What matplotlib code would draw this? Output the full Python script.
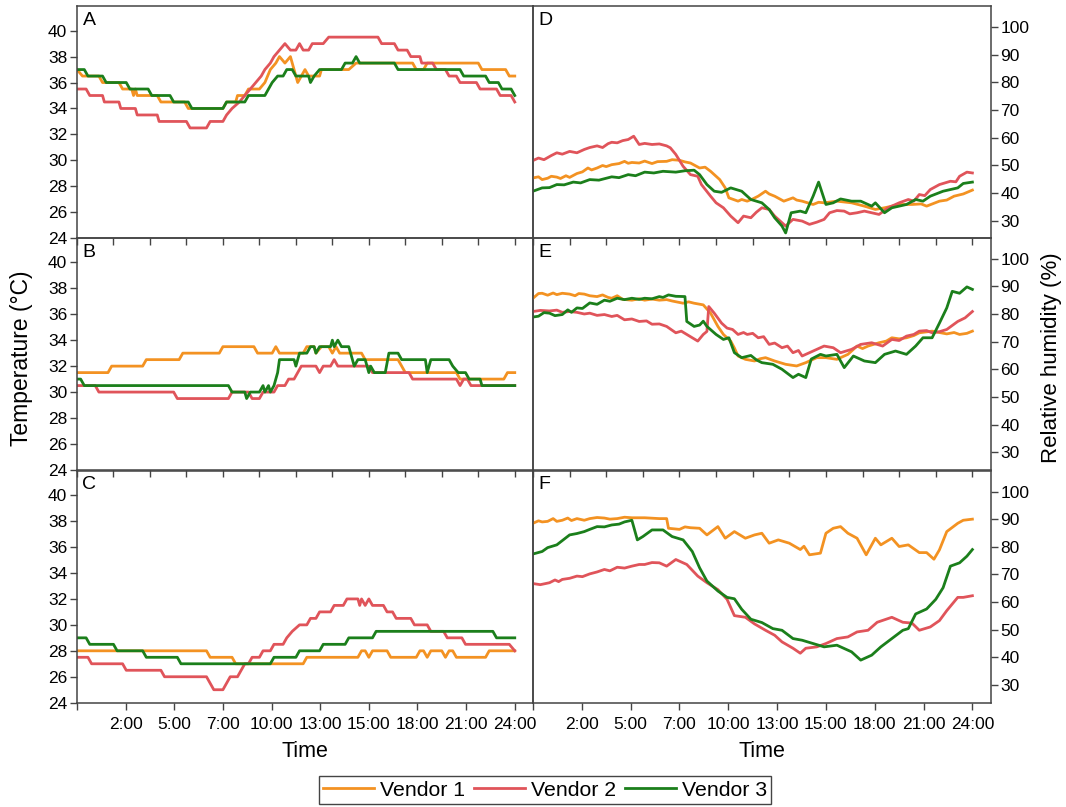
import matplotlib
matplotlib.use("Agg")
import matplotlib.pyplot as plt

plt.rcParams['font.family'] = ['Liberation Sans', 'DejaVu Sans']

# series names and colours
vendors = ["Vendor 1", "Vendor 2", "Vendor 3"]
colors = ["#F39222", "#E0545A", "#1B7F1B"]

# x tick labels of the bottom panels (9 equal steps over the day)
time_labels = ["", "2:00", "5:00", "7:00", "10:00", "13:00", "15:00", "18:00", "21:00", "24:00"]

# temperature (deg C), (hour, value)
A_V1 = [(0, 37), (0.3, 36.5), (1.2, 36.5), (1.4, 36), (2.3, 36), (2.5, 35.5), (3, 35.5), (3.1, 35), (3.2, 35.5),
        (3.3, 35), (4.4, 35), (4.6, 34.5), (5.9, 34.5), (6.1, 34), (8, 34), (8.2, 34.5), (8.7, 34.5), (8.8, 35),
        (9.2, 35), (9.4, 35.5), (10, 35.5), (10.3, 36), (10.6, 37), (10.9, 37.5), (11.1, 38), (11.4, 37.5),
        (11.7, 38), (11.9, 37), (12.1, 36), (12.3, 36.5), (12.5, 37), (12.7, 36.5), (13.3, 36.5), (13.4, 37),
        (14.6, 37), (14.9, 37), (15.3, 37.5), (18.4, 37.5), (18.6, 37), (19, 37), (19.2, 37.5), (22, 37.5),
        (22.2, 37), (23.5, 37), (23.7, 36.5), (24, 36.5)]
A_V2 = [(0, 35.5), (0.5, 35.5), (0.7, 35), (1.4, 35), (1.5, 34.5), (2.3, 34.5), (2.4, 34), (3.2, 34), (3.3, 33.5),
        (4.4, 33.5), (4.5, 33), (6, 33), (6.2, 32.5), (7.1, 32.5), (7.3, 33), (8, 33), (8.2, 33.5), (8.5, 34),
        (8.9, 34.5), (9.2, 35), (9.5, 35.5), (9.8, 36), (10.1, 36.5), (10.3, 37), (10.6, 37.5), (10.8, 38),
        (11.1, 38.5), (11.4, 39), (11.7, 38.5), (12, 38.5), (12.2, 39), (12.4, 38.5), (12.7, 38.5), (12.9, 39),
        (13.5, 39), (13.8, 39.5), (16.5, 39.5), (16.7, 39), (17.4, 39), (17.6, 38.5), (18.1, 38.5), (18.3, 38),
        (18.8, 38), (18.9, 37.5), (19.5, 37.5), (19.7, 37), (20.2, 37), (20.4, 36.5), (20.8, 36.5), (21, 36),
        (21.9, 36), (22.1, 35.5), (23, 35.5), (23.2, 35), (23.8, 35), (24, 34.5)]
A_V3 = [(0, 37), (0.4, 37), (0.6, 36.5), (1.4, 36.5), (1.6, 36), (2.7, 36), (2.9, 35.5), (3.9, 35.5), (4.1, 35),
        (5.1, 35), (5.3, 34.5), (6.1, 34.5), (6.3, 34), (8, 34), (8.2, 34.5), (9.2, 34.5), (9.4, 35), (10.3, 35),
        (10.5, 35.5), (10.7, 36), (11, 36.5), (11.3, 36.5), (11.5, 37), (11.8, 37), (12, 36.5), (12.7, 36.5),
        (12.8, 36), (13, 36.5), (13.3, 37), (14.5, 37), (14.7, 37.5), (15.1, 37.5), (15.3, 38), (15.5, 37.5),
        (17.4, 37.5), (17.6, 37), (21, 37), (21.2, 36.5), (22.4, 36.5), (22.6, 36), (23.1, 36), (23.3, 35.5),
        (23.8, 35.5), (24, 35)]

B_V1 = [(0, 31.5), (1.7, 31.5), (1.9, 32), (3.6, 32), (3.8, 32.5), (5.6, 32.5), (5.8, 33), (7.8, 33), (8, 33.5),
        (9.7, 33.5), (9.9, 33), (10.7, 33), (10.9, 33.5), (11.1, 33), (12.4, 33), (12.6, 33.5), (13, 33.5),
        (13.1, 33), (13.4, 33.5), (13.8, 33.5), (14, 33), (14.2, 33.5), (14.4, 33), (15.6, 33), (15.8, 32.5),
        (17.6, 32.5), (17.8, 32), (18, 31.5), (20.8, 31.5), (21, 31), (23.4, 31), (23.6, 31.5), (24, 31.5)]
B_V2 = [(0, 30.5), (1, 30.5), (1.2, 30), (5.3, 30), (5.5, 29.5), (8.3, 29.5), (8.5, 30), (9.4, 30), (9.6, 29.5),
        (10, 29.5), (10.2, 30), (10.8, 30), (11, 30.5), (11.4, 30.5), (11.6, 31), (11.9, 31), (12.1, 31.5),
        (12.3, 32), (13.1, 32), (13.3, 31.5), (13.5, 32), (13.9, 32), (14.1, 32.5), (14.3, 32), (16, 32),
        (16.2, 31.5), (18.2, 31.5), (18.4, 31), (20.8, 31), (21, 30.5), (21.2, 31), (21.4, 31), (21.6, 30.5),
        (24, 30.5)]
B_V3 = [(0, 31), (0.2, 31), (0.4, 30.5), (8.3, 30.5), (8.5, 30), (9.2, 30), (9.3, 29.5), (9.5, 30), (10, 30),
        (10.2, 30.5), (10.3, 30), (10.5, 30.5), (10.6, 30), (10.8, 30.5), (11, 31.5), (11.1, 32.5), (11.9, 32.5),
        (12, 32), (12.2, 33), (12.6, 33), (12.8, 33.5), (13, 33.5), (13.1, 33), (13.3, 33.5), (13.9, 33.5),
        (14, 34), (14.1, 33.5), (14.3, 34), (14.5, 33.5), (14.9, 33.5), (15.2, 32), (15.4, 32.5), (15.8, 32.5),
        (16, 31.5), (16.1, 32), (16.3, 31.5), (16.9, 31.5), (17.1, 33), (17.6, 33), (17.8, 32.5), (19.1, 32.5),
        (19.2, 31.5), (19.4, 32.5), (20.4, 32.5), (20.6, 32), (20.9, 31.5), (21.3, 31.5), (21.5, 31),
        (22.1, 31), (22.2, 30.5), (24, 30.5)]

C_V1 = [(0, 28), (7.1, 28), (7.3, 27.5), (8.5, 27.5), (8.7, 27), (12.4, 27), (12.6, 27.5), (15.4, 27.5),
        (15.6, 28), (15.8, 28), (16, 27.5), (16.2, 28), (17, 28), (17.2, 27.5), (18.6, 27.5), (18.8, 28),
        (19, 28), (19.2, 27.5), (19.4, 28), (20, 28), (20.2, 27.5), (20.4, 28), (20.6, 28), (20.8, 27.5),
        (22.4, 27.5), (22.6, 28), (24, 28)]
C_V2 = [(0, 27.5), (0.6, 27.5), (0.8, 27), (2.5, 27), (2.7, 26.5), (4.6, 26.5), (4.8, 26), (7.1, 26), (7.5, 25),
        (8, 25), (8.2, 25.5), (8.4, 26), (8.8, 26), (9, 26.5), (9.2, 27), (9.4, 27), (9.6, 27.5), (10, 27.5),
        (10.2, 28), (10.6, 28), (10.8, 28.5), (11.3, 28.5), (11.5, 29), (11.8, 29.5), (12.2, 30), (12.6, 30),
        (12.8, 30.5), (13.1, 30.5), (13.3, 31), (13.9, 31), (14.1, 31.5), (14.6, 31.5), (14.8, 32), (15.4, 32),
        (15.5, 31.5), (15.6, 32), (15.8, 31.5), (16, 32), (16.2, 31.5), (16.8, 31.5), (17, 31), (17.3, 31),
        (17.5, 30.5), (18.3, 30.5), (18.5, 30), (19.2, 30), (19.4, 29.5), (20.1, 29.5), (20.3, 29), (21.1, 29),
        (21.3, 28.5), (23.7, 28.5), (24, 28)]
C_V3 = [(0, 29), (0.5, 29), (0.7, 28.5), (2, 28.5), (2.2, 28), (3.6, 28), (3.8, 27.5), (5.5, 27.5), (5.7, 27),
        (10.6, 27), (10.8, 27.5), (12, 27.5), (12.2, 28), (13.3, 28), (13.5, 28.5), (14.7, 28.5), (14.9, 29),
        (16.2, 29), (16.4, 29.5), (22.8, 29.5), (23, 29), (24, 29)]

# relative humidity (%), (hour, value)
D_V1 = [(0, 45.4), (0.3, 45.8), (0.5, 44.8), (0.8, 45.3), (1, 46), (1.3, 45.7), (1.5, 45.2), (1.8, 46.2),
        (2, 45.6), (2.4, 47), (2.7, 47.6), (3, 49), (3.2, 48.3), (3.5, 49), (3.8, 49.9), (4, 49.5), (4.3, 50.2),
        (4.7, 50.6), (5, 51.4), (5.2, 50.7), (5.4, 51), (5.8, 50.8), (6.1, 51.5), (6.5, 50.6), (6.8, 51.3),
        (7.3, 51.4), (7.6, 52), (8, 51.8), (8.3, 51.2), (8.6, 50.8), (9.1, 49), (9.4, 49.3), (9.7, 47.8),
        (10.2, 44.8), (10.5, 41.8), (10.7, 38.2), (11.2, 37), (11.4, 37.6), (11.7, 37), (12, 37.8), (12.3, 38.8),
        (12.7, 40.6), (12.9, 39.6), (13.2, 38.8), (13.7, 37), (14.2, 38.2), (14.4, 37.4), (14.7, 37),
        (15.3, 35.8), (15.6, 36.6), (15.9, 36.4), (16.6, 37), (17.4, 36.4), (18.1, 35.2), (18.7, 34),
        (19.2, 34.6), (20, 35.8), (20.7, 35.8), (21.2, 36), (21.5, 35.2), (22.2, 37), (22.6, 37.4), (23, 38.8),
        (23.5, 39.6), (24, 41)]
D_V2 = [(0, 51.7), (0.3, 52.6), (0.6, 52), (1, 53.5), (1.3, 54.5), (1.6, 54), (2, 55), (2.4, 54.5),
        (2.8, 55.7), (3.1, 56.4), (3.5, 57), (3.8, 56.4), (4.1, 57.8), (4.3, 58.3), (4.6, 58.1), (4.9, 58.9),
        (5.2, 59.3), (5.5, 60.5), (5.8, 57.5), (6.1, 57.9), (6.5, 57.5), (6.9, 57.7), (7.3, 57), (7.5, 56.3),
        (7.8, 53.9), (8.2, 49.6), (8.6, 46.6), (9, 46), (9.2, 43), (9.7, 38.8), (10, 36.4), (10.4, 34.6),
        (10.8, 31.6), (11.2, 29.2), (11.5, 31.6), (11.9, 31), (12.2, 33), (12.5, 34.6), (12.9, 34), (13.2, 31.6),
        (13.6, 29.2), (13.8, 28), (14.2, 30.4), (14.7, 29.8), (15.1, 28.6), (15.5, 29.4), (15.9, 30.4),
        (16.2, 32.8), (16.6, 33.6), (17, 33.4), (17.3, 32.4), (17.7, 32.8), (18.1, 33.4), (18.5, 32.8),
        (18.9, 32.2), (19.4, 34.6), (20, 36.4), (20.5, 37.6), (20.8, 37), (21.1, 39.4), (21.4, 39),
        (21.7, 41.2), (22.2, 43), (22.8, 44.2), (23.1, 44), (23.3, 46), (23.7, 47.5), (24, 47.2)]
D_V3 = [(0, 40.6), (0.5, 41.8), (0.9, 41.9), (1.3, 43), (1.7, 42.9), (2.2, 43.9), (2.6, 43.6), (3.1, 44.8),
        (3.6, 44.6), (4.3, 45.8), (4.7, 45.5), (5.2, 46.6), (5.6, 46.2), (6.1, 47.5), (6.6, 47.2), (7.1, 47.8),
        (7.8, 47.5), (8.3, 48), (8.8, 48.2), (9.1, 46.6), (9.5, 43), (9.9, 40.6), (10.3, 40.2), (10.8, 41.8),
        (11.4, 40.6), (11.9, 37.6), (12.5, 36.4), (12.9, 34), (13.2, 31), (13.6, 28), (13.8, 25.5), (14.1, 32.8),
        (14.6, 33.4), (14.9, 32.8), (15.3, 38.8), (15.6, 43.9), (16, 35.8), (16.4, 36.4), (16.8, 37.8),
        (17.4, 37), (17.9, 37), (18.5, 35.2), (18.7, 36.4), (19.2, 32.8), (19.6, 34.6), (20.4, 35.8),
        (20.9, 37.6), (21.3, 37), (21.7, 38.8), (22.4, 40.6), (23.2, 41.8), (23.5, 43.4), (24, 43.9)]

E_V1 = [(0, 85.7), (0.3, 87.4), (0.5, 87.5), (0.8, 86.8), (1.1, 87.6), (1.3, 87), (1.6, 87.5), (2, 87.2),
        (2.3, 86.6), (2.5, 87.4), (2.8, 87.2), (3.1, 86.6), (3.5, 86.3), (3.8, 86.9), (4.1, 86), (4.3, 85.7),
        (4.6, 86.6), (4.9, 85.3), (5.4, 85), (5.8, 85.5), (6.1, 85), (6.5, 85.4), (6.9, 85), (7.3, 85.2),
        (7.6, 84.7), (8.2, 83.9), (8.5, 84.4), (8.8, 83.9), (9.3, 83.3), (9.7, 80.3), (10.1, 75.5), (10.4, 72.6),
        (10.8, 70.2), (11, 67.7), (11.2, 64.8), (11.6, 63.6), (12.1, 63), (12.4, 63.8), (12.7, 64.2),
        (13.2, 63), (13.8, 61.8), (14.4, 61.2), (14.9, 62.4), (15.5, 64.2), (16, 64.2), (16.6, 63.6),
        (17.2, 65.4), (17.7, 68.4), (18, 67.5), (18.3, 68.4), (18.9, 69.6), (19.3, 70.2), (19.6, 71.4),
        (20, 71), (20.4, 71.4), (20.8, 72.2), (21.1, 73.2), (21.8, 73.8), (22.2, 73.3), (22.6, 72.8),
        (23, 73.3), (23.3, 72.6), (23.7, 73), (24, 73.8)]
E_V2 = [(0, 80.9), (0.4, 81.3), (0.9, 81.1), (1.3, 81.4), (1.6, 80.6), (2, 80.9), (2.4, 80.6), (2.8, 80),
        (3.1, 80.3), (3.5, 79.5), (3.9, 79.8), (4.3, 79.1), (4.6, 79.5), (5, 77.9), (5.4, 78.2), (5.8, 77.3),
        (6.2, 77.5), (6.5, 76.3), (6.9, 76.4), (7.3, 75.5), (7.8, 73.2), (8.1, 73.8), (8.4, 72.6), (9, 70.2),
        (9.3, 72.6), (9.5, 73.7), (9.6, 82.7), (9.9, 80.3), (10.3, 76.7), (10.6, 74.9), (10.9, 74.4),
        (11.2, 72.6), (11.5, 73.3), (11.7, 72.6), (12, 73), (12.3, 71.4), (12.6, 71.8), (12.9, 69), (13.2, 69.5),
        (13.6, 67.8), (13.9, 68.4), (14.2, 66), (14.5, 66.8), (14.7, 64.8), (15.3, 66.6), (15.9, 68.4),
        (16.4, 67.8), (16.8, 66), (17.4, 67.2), (17.9, 69), (18.5, 69.6), (19.1, 68.4), (19.6, 70.8), (20, 70.4),
        (20.4, 72), (20.8, 72.6), (21.1, 73.8), (21.5, 74), (21.8, 73.2), (22.2, 73.6), (22.6, 74.4),
        (23.2, 77.3), (23.6, 78.6), (24, 80.9)]
E_V3 = [(0, 78.9), (0.3, 79.2), (0.6, 80.5), (0.9, 80.3), (1.2, 79.4), (1.6, 79.8), (1.9, 81.5), (2.1, 80.6),
        (2.4, 82.2), (2.7, 82), (3.1, 84), (3.5, 83.5), (3.9, 85), (4.2, 84.6), (4.6, 85.7), (5, 85.2),
        (5.4, 85.7), (5.8, 85.3), (6.1, 85.7), (6.5, 85.5), (6.9, 86.3), (7.1, 86), (7.4, 86.9), (7.8, 86.4),
        (8.3, 86.3), (8.4, 77.3), (8.8, 75.5), (9.1, 76), (9.3, 77.4), (9.5, 75.5), (10, 72.6), (10.4, 70.8),
        (10.7, 71.4), (11, 66), (11.4, 64.2), (11.9, 65), (12.2, 63.4), (12.5, 62.4), (13.1, 61.8), (13.6, 60),
        (14.2, 57), (14.5, 58.2), (14.9, 57), (15.2, 63.7), (15.7, 65.4), (16, 64.8), (16.6, 65.4), (17, 60.6),
        (17.5, 64.8), (18.1, 63), (18.7, 62.4), (19.2, 65.4), (19.8, 66.6), (20.4, 65.4), (20.9, 68.4),
        (21.3, 71.4), (21.8, 71.4), (22.2, 76.7), (22.6, 82.2), (22.9, 88.2), (23.3, 87.5), (23.7, 89.8),
        (24, 88.9)]

F_V1 = [(0, 88.5), (0.3, 89.4), (0.5, 89), (0.8, 89.2), (1.1, 90.2), (1.3, 89.2), (1.6, 89.6), (1.9, 90.4),
        (2.1, 89.5), (2.4, 90.2), (2.8, 89.6), (3.1, 90.2), (3.5, 90.6), (3.9, 90.4), (4.2, 90), (4.6, 90.2),
        (5, 90.7), (5.4, 90.5), (6.1, 90.5), (6.9, 90.2), (7.3, 90.2), (7.4, 86.7), (8, 86.3), (8.3, 87.2),
        (8.6, 86.9), (9.1, 86.7), (9.5, 84.3), (10.1, 87.3), (10.5, 83.1), (11, 85.5), (11.6, 83.1), (12.1, 84.3),
        (12.5, 84.9), (12.9, 81.3), (13.4, 82.5), (14, 81.3), (14.6, 79), (14.8, 80.2), (15.1, 77.1),
        (15.7, 77.7), (16, 84.9), (16.4, 86.7), (16.8, 87.3), (17.2, 84.9), (17.7, 83.1), (18.2, 77.1),
        (18.7, 83.1), (19, 80.7), (19.6, 83.1), (20, 80.1), (20.5, 80.7), (21.1, 77.9), (21.5, 77.9),
        (21.9, 75.5), (22.2, 78.9), (22.6, 85.5), (23.2, 88.5), (23.5, 89.6), (24, 90)]
F_V2 = [(0, 66.7), (0.4, 66.3), (0.9, 67), (1.2, 68), (1.4, 67.4), (1.6, 68.2), (2, 68.6), (2.4, 69.4),
        (2.7, 69.2), (3.1, 70.2), (3.5, 70.9), (3.9, 71.8), (4.2, 71.3), (4.6, 72.6), (5, 72.3), (5.4, 73),
        (5.8, 73.6), (6.1, 73.6), (6.5, 74.3), (6.9, 74.2), (7.3, 73), (7.8, 75.4), (8.4, 73.6), (9, 69.4),
        (9.5, 67), (10.1, 64.5), (10.6, 61), (11, 55.1), (11.6, 54.5), (12.1, 52.1), (12.7, 49.8), (13.2, 48),
        (13.6, 45.6), (14.2, 43.3), (14.6, 41.5), (14.9, 43.3), (15.5, 43.8), (16, 45), (16.6, 46.8),
        (17.2, 47.4), (17.7, 49.2), (18.3, 49.8), (18.8, 52.7), (19.6, 54.5), (20.2, 52.7), (20.7, 52.4),
        (21.1, 49.8), (21.7, 51), (22.2, 53.3), (22.6, 56.9), (23.2, 61.7), (23.5, 61.7), (24, 62.3)]
F_V3 = [(0, 77.4), (0.5, 78.3), (0.8, 79.7), (1.3, 80.7), (2, 84.3), (2.4, 84.8), (2.8, 85.5), (3.1, 86.3),
        (3.5, 87.3), (3.9, 87.2), (4.3, 87.9), (4.7, 88.2), (5, 89), (5.4, 89.6), (5.7, 82.5), (6, 83.7),
        (6.5, 86.1), (7.1, 86.1), (7.6, 83.7), (8.2, 82.5), (8.7, 78.3), (9.1, 72.4), (9.5, 67.6), (10.1, 64),
        (10.6, 61.7), (11, 61.2), (11.4, 57.4), (11.9, 53.8), (12.5, 52.6), (13.1, 50.4), (13.6, 49.8),
        (14.2, 46.8), (14.7, 46.2), (15.3, 45), (15.9, 43.8), (16.6, 44.4), (17.4, 42), (17.9, 39), (18.5, 40.8),
        (19, 43.8), (19.6, 46.8), (20.2, 49.8), (20.5, 50.4), (20.9, 55.7), (21.5, 57.5), (22, 61), (22.4, 65.2),
        (22.8, 73), (23.3, 74.2), (23.7, 76.6), (24, 79)]

panels = {
    "A": [A_V1, A_V2, A_V3], "B": [B_V1, B_V2, B_V3], "C": [C_V1, C_V2, C_V3],
    "D": [D_V1, D_V2, D_V3], "E": [E_V1, E_V2, E_V3], "F": [F_V1, F_V2, F_V3],
}

W, H = 1066, 807
fig = plt.figure(figsize=(W / 100, H / 100), dpi=100)

spine_col = "#444444"
tops = [6, 237.7, 470.5]
ph = 232.2
lefts = [(77, 456), (533, 457.7)]


def draw(ax, series):
    for s, c in zip(series, colors):
        xs = [p[0] for p in s]
        ys = [p[1] for p in s]
        ax.plot(xs, ys, color=c, lw=2.0)


for col, letters in enumerate(["ABC", "DEF"]):
    x0, w = lefts[col]
    for row, let in enumerate(letters):
        ax = fig.add_axes([x0 / W, 1 - (tops[row] + ph) / H, w / W, ph / H])
        ax.patch.set_visible(False)
        draw(ax, panels[let])
        ax.set_xlim(0, 25)
        for sp in ax.spines.values():
            sp.set_color(spine_col)
            sp.set_linewidth(1.1)
        if row < 2:
            ax.set_xticks(range(0, 25, 2))
            ax.set_xticklabels([])
        else:
            ax.set_xticks([k * 24 / 9 for k in range(10)])
            ax.set_xticklabels(time_labels)
            ax.set_xlabel("Time", fontsize=15.5, labelpad=7)
        ax.tick_params(axis='x', direction='out', length=5, width=1, color=spine_col,
                       labelsize=12.5, pad=5)
        if col == 0:
            ax.set_ylim(24, 41.9)
            ax.set_yticks(range(24, 41, 2))
            ax.tick_params(axis='y', direction='out', length=5, width=1, color=spine_col,
                           labelsize=12.5, pad=2)
        else:
            ax.set_ylim(23.6, 107.6)
            ax.set_yticks(range(30, 101, 10))
            ax.yaxis.tick_right()
            ax.tick_params(axis='y', direction='out', length=5, width=1, color=spine_col,
                           labelsize=12.5, pad=2, left=False, right=True)
        ax.text(0.012, 0.975, let, transform=ax.transAxes, fontsize=14, va='top', ha='left')

fig.text(22 / W, 1 - 358 / H, "Temperature (\u00b0C)", rotation=90, fontsize=16.5, ha='center', va='center')
fig.text(1051 / W, 1 - 358 / H, "Relative humidity (%)", rotation=90, fontsize=16, ha='center', va='center')

handles = [plt.Line2D([], [], color=c, lw=2.0) for c in colors]
leg = fig.legend(handles, vendors, loc='center', bbox_to_anchor=(545 / W, 1 - 790 / H), ncol=3,
                 fontsize=15.3, frameon=True, fancybox=False, edgecolor=spine_col, framealpha=1,
                 handlelength=2.4, handletextpad=0.3, columnspacing=0.4, borderpad=0.2, borderaxespad=0)
leg.get_frame().set_linewidth(1.0)

fig.savefig("out.png", dpi=100)
